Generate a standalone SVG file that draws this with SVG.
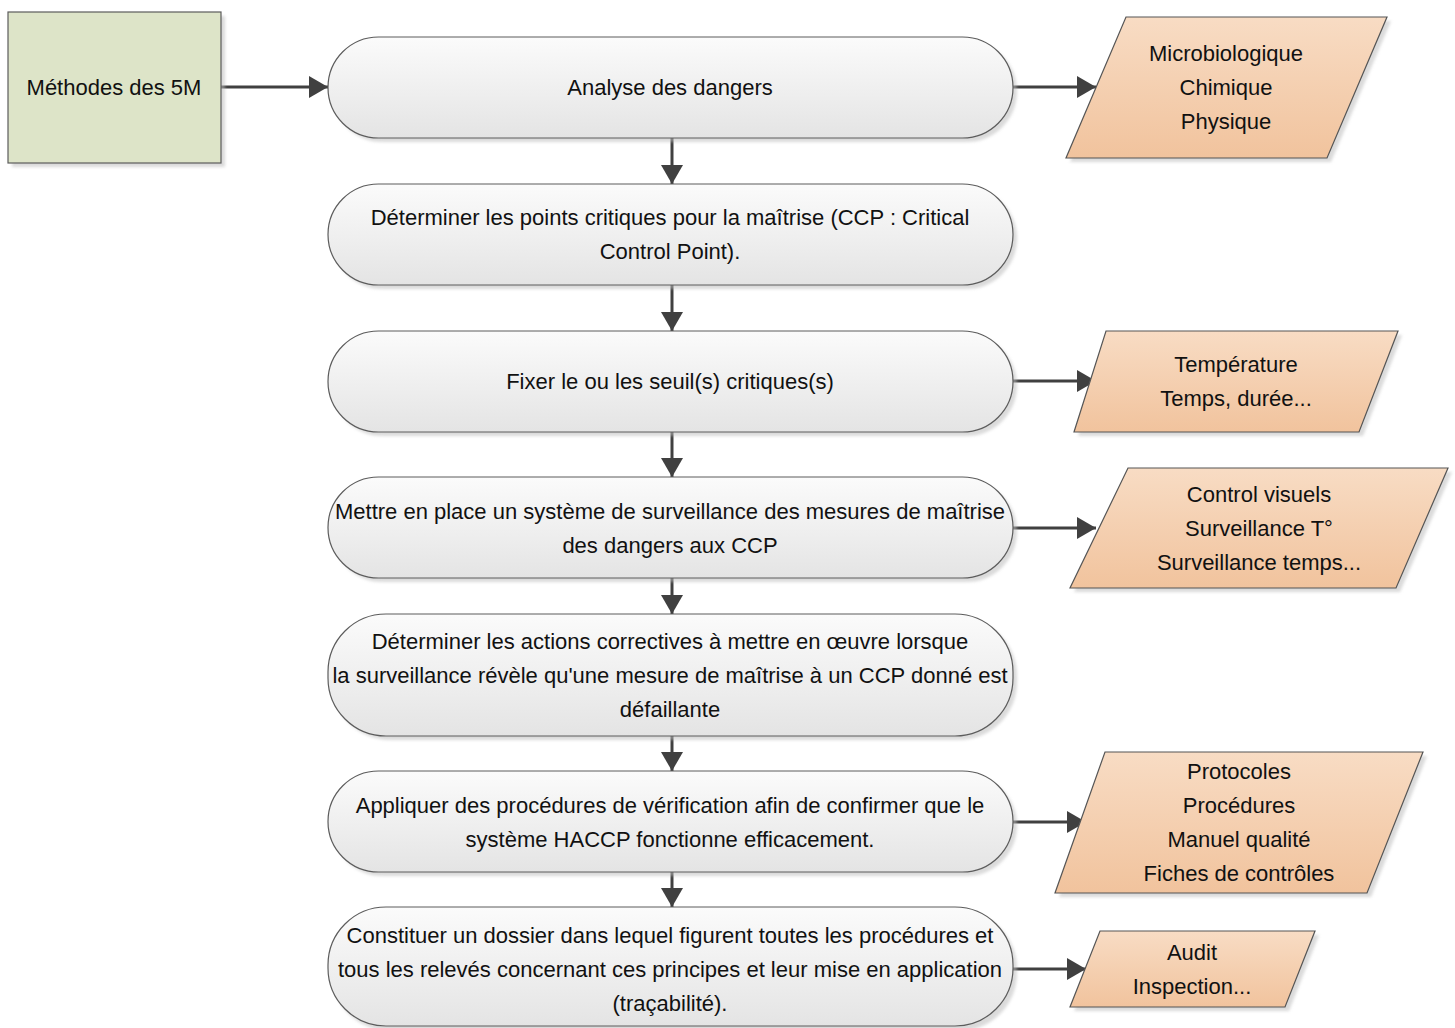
<svg xmlns="http://www.w3.org/2000/svg" width="1455" height="1028" viewBox="0 0 1455 1028">
<style>
  text { font-family: "Liberation Sans", Arial, sans-serif; font-size: 22px; fill: #111; text-anchor: middle; }
  .term { fill: url(#gTerm); stroke: #5c5c5c; stroke-width: 1.2; }
  .para { fill: url(#gPara); stroke: #555; stroke-width: 1.2; }
  .shadow { fill: #bdbdbd; opacity: 0.55; filter: url(#blur); }
  .conn { stroke: #404040; stroke-width: 3; fill: none; marker-end: url(#arrow); }
</style>
<defs>
  <linearGradient id="gTerm" x1="0" y1="0" x2="0" y2="1">
    <stop offset="0" stop-color="#fbfbfb"/>
    <stop offset="1" stop-color="#e4e4e4"/>
  </linearGradient>
  <linearGradient id="gPara" x1="0" y1="0" x2="0" y2="1">
    <stop offset="0" stop-color="#f8dcc4"/>
    <stop offset="1" stop-color="#f1c39d"/>
  </linearGradient>
  <filter id="blur" x="-5%" y="-5%" width="110%" height="110%"><feGaussianBlur stdDeviation="1.5"/></filter>
  <marker id="arrow" markerUnits="userSpaceOnUse" markerWidth="20" markerHeight="22" refX="19" refY="11" orient="auto">
    <path d="M0,0 L19,11 L0,22 z" fill="#404040"/>
  </marker>
</defs>

<g id="connectors">
  <line class="conn" x1="221" y1="87" x2="328" y2="87"/>
  <line class="conn" x1="1013" y1="87" x2="1096" y2="87"/>
  <line class="conn" x1="1013" y1="381" x2="1096" y2="381"/>
  <line class="conn" x1="1013" y1="528" x2="1096" y2="528"/>
  <line class="conn" x1="1013" y1="822" x2="1086" y2="822"/>
  <line class="conn" x1="1013" y1="969" x2="1086" y2="969"/>
  <line class="conn" x1="672" y1="138" x2="672" y2="184"/>
  <line class="conn" x1="672" y1="285" x2="672" y2="331"/>
  <line class="conn" x1="672" y1="432" x2="672" y2="477"/>
  <line class="conn" x1="672" y1="578" x2="672" y2="614"/>
  <line class="conn" x1="672" y1="736" x2="672" y2="771"/>
  <line class="conn" x1="672" y1="872" x2="672" y2="907"/>
</g>

<g id="n-5m">
  <rect class="shadow" x="12" y="16" width="213" height="151"/>
  <rect x="8" y="12" width="213" height="151" fill="#dde4c8" stroke="#5c5c5c" stroke-width="1.2"/>
  <text x="114" y="95">Méthodes des 5M</text>
</g>

<g id="n-analyse">
  <rect class="shadow" x="332" y="41" width="685" height="101" rx="50.5"/>
  <rect class="term" x="328" y="37" width="685" height="101" rx="50.5"/>
  <text x="670" y="95">Analyse des dangers</text>
</g>

<g id="n-ccp">
  <rect class="shadow" x="332" y="188" width="685" height="101" rx="50.5"/>
  <rect class="term" x="328" y="184" width="685" height="101" rx="50.5"/>
  <text x="670" y="225">Déterminer les points critiques pour la maîtrise (CCP : Critical</text>
  <text x="670" y="259">Control Point).</text>
</g>

<g id="n-seuils">
  <rect class="shadow" x="332" y="335" width="685" height="101" rx="50.5"/>
  <rect class="term" x="328" y="331" width="685" height="101" rx="50.5"/>
  <text x="670" y="389">Fixer le ou les seuil(s) critiques(s)</text>
</g>

<g id="n-surveillance">
  <rect class="shadow" x="332" y="481" width="685" height="101" rx="50.5"/>
  <rect class="term" x="328" y="477" width="685" height="101" rx="50.5"/>
  <text x="670" y="519">Mettre en place un système de surveillance des mesures de maîtrise</text>
  <text x="670" y="553">des dangers aux CCP</text>
</g>

<g id="n-correctives">
  <rect class="shadow" x="332" y="618" width="685" height="122" rx="58"/>
  <rect class="term" x="328" y="614" width="685" height="122" rx="58"/>
  <text x="670" y="649">Déterminer les actions correctives à mettre en œuvre lorsque</text>
  <text x="670" y="683">la surveillance révèle qu'une mesure de maîtrise à un CCP donné est</text>
  <text x="670" y="717">défaillante</text>
</g>

<g id="n-verification">
  <rect class="shadow" x="332" y="775" width="685" height="101" rx="50.5"/>
  <rect class="term" x="328" y="771" width="685" height="101" rx="50.5"/>
  <text x="670" y="813">Appliquer des procédures de vérification afin de confirmer que le</text>
  <text x="670" y="847">système HACCP fonctionne efficacement.</text>
</g>

<g id="n-dossier">
  <rect class="shadow" x="332" y="911" width="685" height="120" rx="58"/>
  <rect class="term" x="328" y="907" width="685" height="119" rx="58"/>
  <text x="670" y="943">Constituer un dossier dans lequel figurent toutes les procédures et</text>
  <text x="670" y="977">tous les relevés concernant ces principes et leur mise en application</text>
  <text x="670" y="1011">(traçabilité).</text>
</g>

<g id="p-dangers">
  <polygon class="shadow" points="1130,21 1391,21 1331,162 1070,162"/>
  <polygon class="para" points="1126,17 1387,17 1327,158 1066,158"/>
  <text x="1226" y="61">Microbiologique</text>
  <text x="1226" y="95">Chimique</text>
  <text x="1226" y="129">Physique</text>
</g>

<g id="p-seuils">
  <polygon class="shadow" points="1110,335 1402,335 1363,436 1078,436"/>
  <polygon class="para" points="1106,331 1398,331 1359,432 1074,432"/>
  <text x="1236" y="372">Température</text>
  <text x="1236" y="406">Temps, durée...</text>
</g>

<g id="p-surveillance">
  <polygon class="shadow" points="1132,472 1452,472 1400,592 1074,592"/>
  <polygon class="para" points="1128,468 1448,468 1396,588 1070,588"/>
  <text x="1259" y="502">Control visuels</text>
  <text x="1259" y="536">Surveillance T°</text>
  <text x="1259" y="570">Surveillance temps...</text>
</g>

<g id="p-verification">
  <polygon class="shadow" points="1109,756 1427,756 1371,897 1059,897"/>
  <polygon class="para" points="1105,752 1423,752 1367,893 1055,893"/>
  <text x="1239" y="779">Protocoles</text>
  <text x="1239" y="813">Procédures</text>
  <text x="1239" y="847">Manuel qualité</text>
  <text x="1239" y="881">Fiches de contrôles</text>
</g>

<g id="p-dossier">
  <polygon class="shadow" points="1104,935 1319,935 1289,1011 1074,1011"/>
  <polygon class="para" points="1100,931 1315,931 1285,1007 1070,1007"/>
  <text x="1192" y="960">Audit</text>
  <text x="1192" y="994">Inspection...</text>
</g>
</svg>
